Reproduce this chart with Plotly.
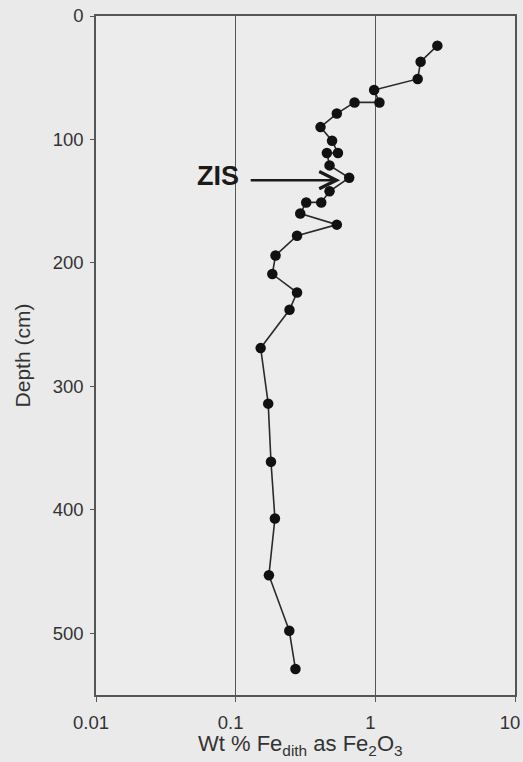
import math
import plotly.graph_objects as go

depth_cm = [24, 37, 51, 60, 70, 70, 79, 90, 101, 111, 111, 121, 131, 142, 151, 151,
            160, 169, 178, 194, 209, 224, 238, 269, 314, 361, 407, 453, 498, 529]
fe_wt = [2.78, 2.11, 2.01, 0.98, 1.07, 0.71, 0.53, 0.405, 0.49, 0.54, 0.45, 0.47, 0.65,
         0.47, 0.41, 0.32, 0.29, 0.53, 0.275, 0.193, 0.183, 0.275, 0.243, 0.151, 0.171,
         0.179, 0.191, 0.173, 0.242, 0.268]

x_ticks = [0.01, 0.1, 1, 10]
x_tick_labels = ["0.01", "0.1", "1", "10"]
y_ticks = [0, 100, 200, 300, 400, 500]
y_tick_labels = ["0", "100", "200", "300", "400", "500"]

zis_label = "ZIS"
zis_depth = 133
zis_point = 0.56
zis_tail = 0.125
zis_text_x = 0.075

FONT = "Liberation Sans, Arial, sans-serif"
TXT = "#333333"

fig = go.Figure()
fig.add_trace(go.Scatter(
    x=fe_wt, y=depth_cm, mode="lines+markers",
    line=dict(color="#2a2a2a", width=1.6),
    marker=dict(color="#111111", size=10.5),
    showlegend=False, hoverinfo="skip",
))

# arrow (annotation coords on a log axis are log10 values)
fig.add_annotation(x=math.log10(zis_point), y=zis_depth,
                   ax=math.log10(zis_tail), ay=zis_depth,
                   xref="x", yref="y", axref="x", ayref="y",
                   text="", showarrow=True, arrowhead=5, arrowsize=1.3,
                   arrowwidth=2.6, arrowcolor="#1a1a1a")
fig.add_annotation(x=math.log10(zis_text_x), y=zis_depth - 3, xref="x", yref="y",
                   text="<b>" + zis_label + "</b>", showarrow=False,
                   font=dict(family=FONT, size=27, color="#1a1a1a"))

# x-axis title placed as annotation for exact position
fig.add_annotation(x=0.487, y=-0.073, xref="paper", yref="paper",
                   xanchor="center", yanchor="middle", showarrow=False,
                   text="Wt % Fe<sub>dith</sub> as Fe<sub>2</sub>O<sub>3</sub>",
                   font=dict(family=FONT, size=22, color=TXT))

tick_font = dict(family=FONT, size=18.5, color=TXT)

fig.update_layout(
    width=523, height=762,
    margin=dict(l=96, r=8, t=16, b=67, autoexpand=False),
    paper_bgcolor="#eaeaea",
    plot_bgcolor="#ececec",
    font=dict(family=FONT, color=TXT),
    xaxis=dict(
        type="log", range=[-2, 1],
        tickvals=x_ticks, ticktext=x_tick_labels,
        showgrid=True, gridcolor="#555555", gridwidth=1,
        showline=True, linecolor="#555555", linewidth=1.5, mirror=True,
        ticks="outside", ticklen=5, tickcolor="#555555",
        tickfont=tick_font, ticklabelstandoff=5, ticklabeloverflow="allow",
        ticklabelshift=-5, automargin=False,
        zeroline=False,
    ),
    yaxis=dict(
        range=[550, 0],
        tickvals=y_ticks, ticktext=y_tick_labels,
        showgrid=False,
        showline=True, linecolor="#555555", linewidth=1.5, mirror=True,
        ticks="outside", ticklen=4, tickcolor="#555555",
        tickfont=tick_font, ticklabelstandoff=3, automargin=False,
        title=dict(text="Depth (cm)",
                   font=dict(family=FONT, size=21, color=TXT),
                   standoff=16),
        zeroline=False,
    ),
)

fig.write_html("out.html",
               config={"displayModeBar": False},
               post_script="document.body.style.margin='0';"
                           "document.body.style.background='#eaeaea';")
